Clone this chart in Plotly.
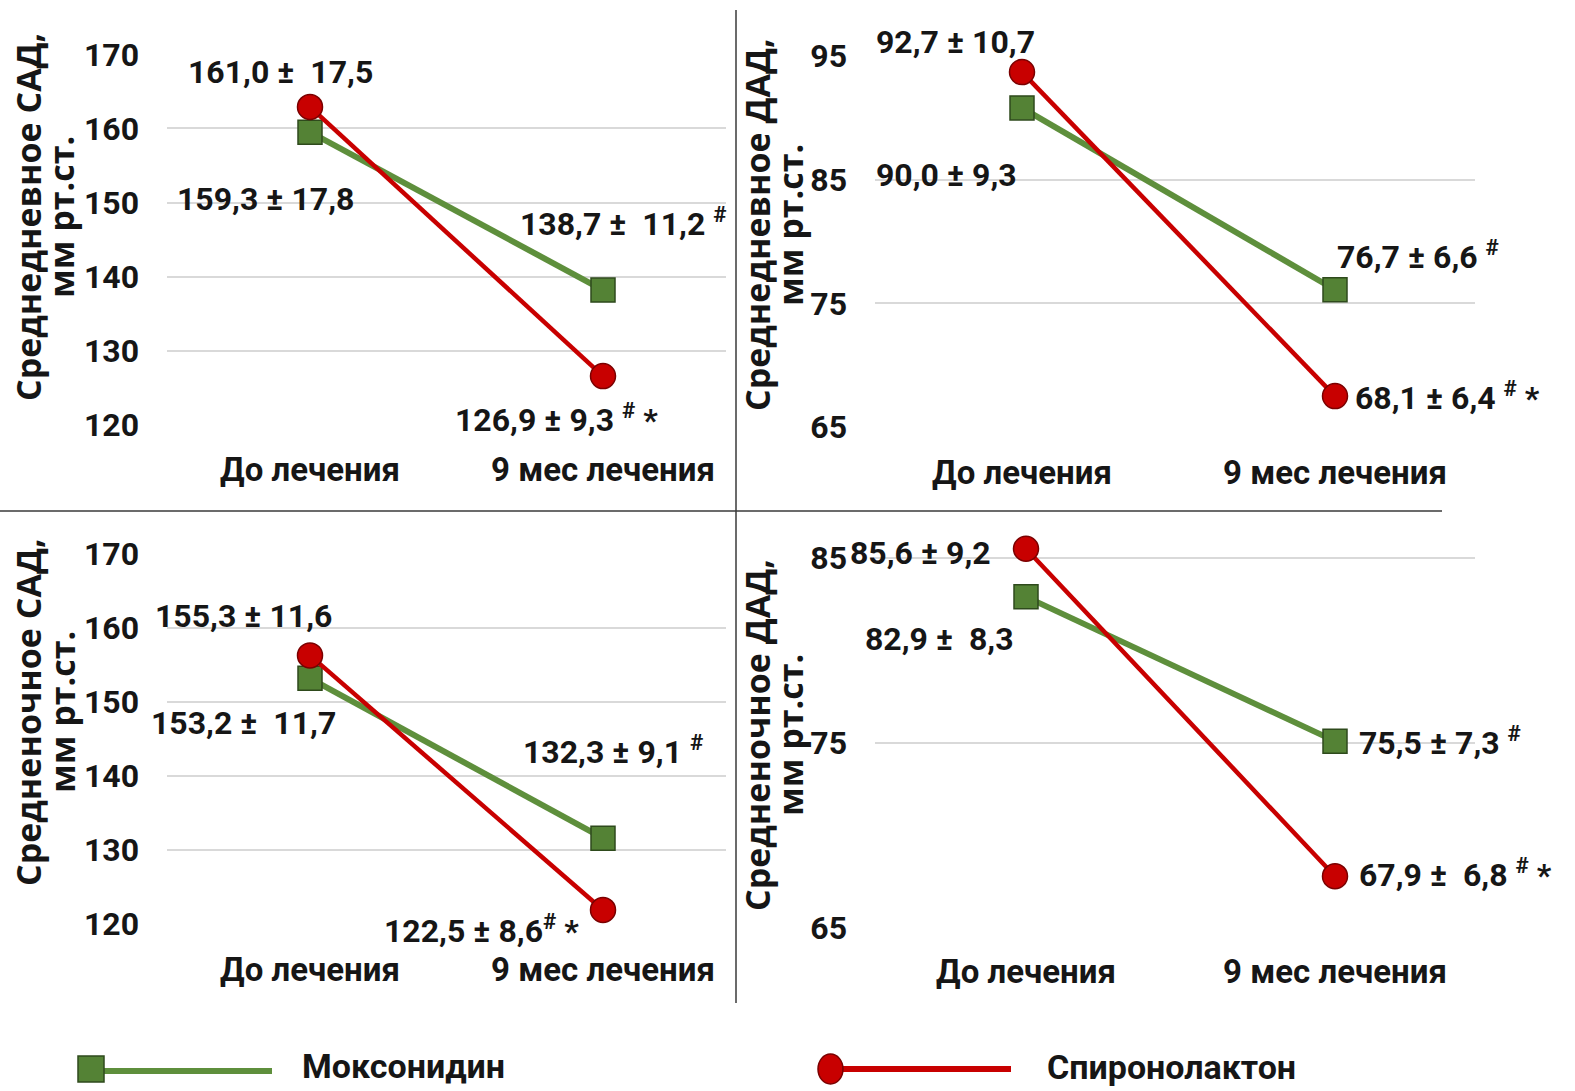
import plotly.graph_objects as go

W, H = 1575, 1091

# ---------------- data ----------------
categories = ["До лечения", "9 мес лечения"]
series_names = ["Моксонидин", "Спиронолактон"]

# plotted positions
day_sbp_mox = [159.5, 138.2]
day_sbp_spi = [162.9, 126.6]
day_dbp_mox = [90.8, 76.1]
day_dbp_spi = [93.7, 67.5]
night_sbp_mox = [153.2, 131.6]
night_sbp_spi = [156.3, 121.9]
night_dbp_mox = [82.9, 75.1]
night_dbp_spi = [85.5, 67.8]

# data labels (mean ± SD)
day_sbp_mox_lbl = ["159,3 ± 17,8", "138,7 ±  11,2 <sup>#</sup>"]
day_sbp_spi_lbl = ["161,0 ±  17,5", "126,9 ± 9,3 <sup>#</sup> *"]
day_dbp_mox_lbl = ["90,0 ± 9,3", "76,7 ± 6,6 <sup>#</sup>"]
day_dbp_spi_lbl = ["92,7 ± 10,7", "68,1 ± 6,4 <sup>#</sup> *"]
night_sbp_mox_lbl = ["153,2 ±  11,7", "132,3 ± 9,1 <sup>#</sup>"]
night_sbp_spi_lbl = ["155,3 ± 11,6", "122,5 ± 8,6<sup>#</sup> *"]
night_dbp_mox_lbl = ["82,9 ±  8,3", "75,5 ± 7,3 <sup>#</sup>"]
night_dbp_spi_lbl = ["85,6 ± 9,2", "67,9 ±  6,8 <sup>#</sup> *"]

y_titles_line1 = ["Среднедневное САД,", "Среднедневное ДАД,", "Средненочное САД,", "Средненочное ДАД,"]
y_title_line2 = "мм рт.ст."

sbp_ticks = [120, 130, 140, 150, 160, 170]
day_dbp_ticks = [65, 75, 85, 95]
night_dbp_ticks = [65, 75, 85]

# ---------------- style ----------------
GREEN = "#548235"
GREEN_LINE = "#5e8f3c"
GREEN_EDGE = "#2e4a1c"
RED = "#c80000"
RED_EDGE = "#7a0000"
GRID = "#d9d9d9"
TXT = "#161616"
NARROW = "Roboto, Liberation Sans, sans-serif"
WIDE = "Open Sans, Noto Sans, DejaVu Sans, sans-serif"
LBL_SIZE = 32


def fx(p):
    return p / W


def fy(p):
    return 1 - p / H


# panel geometry in pixels (value <-> pixel calibration)
panels = [
    dict(xd=(167, 726), cx=(310, 603), y_px=(425, 54.3), y_val=(120, 170), top=170, ticks=sbp_ticks,
         mox=day_sbp_mox, spi=day_sbp_spi, mlbl=day_sbp_mox_lbl, slbl=day_sbp_spi_lbl,
         tx=(28, 61), ty=217, xlab_y=471),
    dict(xd=(875, 1475), cx=(1022, 1335), y_px=(427, 56), y_val=(65, 95), top=95, ticks=day_dbp_ticks,
         mox=day_dbp_mox, spi=day_dbp_spi, mlbl=day_dbp_mox_lbl, slbl=day_dbp_spi_lbl,
         tx=(757, 790), ty=225, xlab_y=474),
    dict(xd=(167, 726), cx=(310, 603), y_px=(924, 554), y_val=(120, 170), top=170, ticks=sbp_ticks,
         mox=night_sbp_mox, spi=night_sbp_spi, mlbl=night_sbp_mox_lbl, slbl=night_sbp_spi_lbl,
         tx=(28, 62), ty=712, xlab_y=971),
    dict(xd=(875, 1475), cx=(1026, 1335), y_px=(928, 558), y_val=(65, 85), top=87.5, ticks=night_dbp_ticks,
         mox=night_dbp_mox, spi=night_dbp_spi, mlbl=night_dbp_mox_lbl, slbl=night_dbp_spi_lbl,
         tx=(757, 790), ty=735, xlab_y=973),
]

# label placement: (xanchor, xshift, yshift) per panel per series per point
mox_pos = [
    [("center", -45, -67), ("left", -85, 68)],
    [("left", -148, -67), ("left", 0, 35)],
    [("left", -161, -45), ("left", -82, 88)],
    [("left", -163, -42), ("left", 22, 0)],
]
spi_pos = [
    [("center", -30, 35), ("center", -47, -42)],
    [("left", -148, 30), ("left", 18, 0)],
    [("left", -157, 39), ("left", -221, -19)],
    [("left", -178, -4), ("left", 22, 3)],
]

fig = go.Figure()
annotations = []
layout_axes = {}

for i, p in enumerate(panels):
    n = i + 1
    xa = "x" if n == 1 else f"x{n}"
    ya = "y" if n == 1 else f"y{n}"
    xkey = "xaxis" if n == 1 else f"xaxis{n}"
    ykey = "yaxis" if n == 1 else f"yaxis{n}"

    scale = p["cx"][1] - p["cx"][0]
    xr = [(p["xd"][0] - p["cx"][0]) / scale, 1 + (p["xd"][1] - p["cx"][1]) / scale]

    ppu = (p["y_px"][0] - p["y_px"][1]) / (p["y_val"][1] - p["y_val"][0])
    ybot_px = p["y_px"][0]
    ytop_px = p["y_px"][0] - (p["top"] - p["y_val"][0]) * ppu

    layout_axes[xkey] = dict(
        domain=[fx(p["xd"][0]), fx(p["xd"][1])], anchor=ya, type="category",
        categoryorder="array", categoryarray=categories, range=xr, automargin=False,
        showgrid=False, zeroline=False, showline=False, ticks="",
        tickfont=dict(family=NARROW, size=33, color=TXT, weight="bold"),
        ticklabelstandoff=p["xlab_y"] - ybot_px - 24,
    )
    layout_axes[ykey] = dict(
        domain=[fy(ybot_px), fy(ytop_px)], anchor=xa, range=[p["y_val"][0], p["top"]],
        tickvals=p["ticks"], showgrid=True, gridcolor=GRID, gridwidth=1.5, automargin=False,
        zeroline=False, showline=False, ticks="",
        tickfont=dict(family=NARROW, size=LBL_SIZE, color=TXT, weight="bold"),
        ticklabelstandoff=27,
    )

    fig.add_trace(go.Scatter(
        x=categories, y=p["mox"], xaxis=xa, yaxis=ya, mode="lines+markers",
        name=series_names[0], showlegend=False, cliponaxis=False,
        line=dict(color=GREEN_LINE, width=6),
        marker=dict(symbol="square", size=24, color=GREEN, line=dict(color=GREEN_EDGE, width=1.5)),
    ))
    fig.add_trace(go.Scatter(
        x=categories, y=p["spi"], xaxis=xa, yaxis=ya, mode="lines+markers",
        name=series_names[1], showlegend=False, cliponaxis=False,
        line=dict(color=RED, width=4.5),
        marker=dict(symbol="circle", size=25, color=RED, line=dict(color=RED_EDGE, width=1.5)),
    ))

    for vals, lbls, pos in ((p["mox"], p["mlbl"], mox_pos[i]), (p["spi"], p["slbl"], spi_pos[i])):
        for j in range(2):
            anc, xs, ys = pos[j]
            annotations.append(dict(
                x=categories[j], y=vals[j], xref=xa, yref=ya, text=lbls[j], showarrow=False,
                xanchor=anc, yanchor="middle", xshift=xs, yshift=ys,
                font=dict(family=NARROW, size=LBL_SIZE, color=TXT, weight="bold"),
            ))

    # y-axis titles (two lines)
    annotations.append(dict(
        x=fx(p["tx"][0]), y=fy(p["ty"]), xref="paper", yref="paper", text=y_titles_line1[i],
        textangle=-90, showarrow=False, xanchor="center", yanchor="middle",
        font=dict(family=WIDE, size=34, color=TXT, weight="bold"),
    ))
    annotations.append(dict(
        x=fx(p["tx"][1]), y=fy(p["ty"]), xref="paper", yref="paper", text=y_title_line2,
        textangle=-90, showarrow=False, xanchor="center", yanchor="middle",
        font=dict(family=WIDE, size=34, color=TXT, weight="bold"),
    ))

# ---------------- dividers and legend ----------------
shapes = []
shapes.append(dict(type="line", xref="paper", yref="paper", x0=0, x1=fx(1442), y0=fy(511), y1=fy(511),
                   line=dict(color="#3a3a3a", width=1.5)))
shapes.append(dict(type="line", xref="paper", yref="paper", x0=fx(736), x1=fx(736), y0=fy(10), y1=fy(1003),
                   line=dict(color="#3a3a3a", width=1.5)))

leg_y = 1069
shapes.append(dict(type="line", xref="paper", yref="paper", x0=fx(103), x1=fx(272), y0=fy(leg_y + 2), y1=fy(leg_y + 2),
                   line=dict(color=GREEN_LINE, width=6)))
shapes.append(dict(type="rect", xref="paper", yref="paper", x0=fx(78), x1=fx(104), y0=fy(leg_y + 13), y1=fy(leg_y - 13),
                   fillcolor=GREEN, line=dict(color=GREEN_EDGE, width=1.5)))
shapes.append(dict(type="line", xref="paper", yref="paper", x0=fx(838), x1=fx(1011), y0=fy(leg_y), y1=fy(leg_y),
                   line=dict(color=RED, width=6)))
shapes.append(dict(type="circle", xref="paper", yref="paper", x0=fx(818), x1=fx(843), y0=fy(leg_y + 15), y1=fy(leg_y - 15),
                   fillcolor=RED, line=dict(color=RED_EDGE, width=1.5)))

annotations.append(dict(x=fx(300), y=fy(1066), xref="paper", yref="paper", text=series_names[0],
                        showarrow=False, xanchor="left", yanchor="middle",
                        font=dict(family=NARROW, size=34, color=TXT, weight="bold")))
annotations.append(dict(x=fx(1045), y=fy(1067), xref="paper", yref="paper", text=series_names[1],
                        showarrow=False, xanchor="left", yanchor="middle",
                        font=dict(family=NARROW, size=34, color=TXT, weight="bold")))

fig.update_layout(
    template="none",
    width=W, height=H, margin=dict(l=0, r=0, t=0, b=0, pad=0),
    paper_bgcolor="white", plot_bgcolor="white",
    showlegend=False, annotations=annotations, shapes=shapes,
    **layout_axes,
)

fig.write_html("out.html")
